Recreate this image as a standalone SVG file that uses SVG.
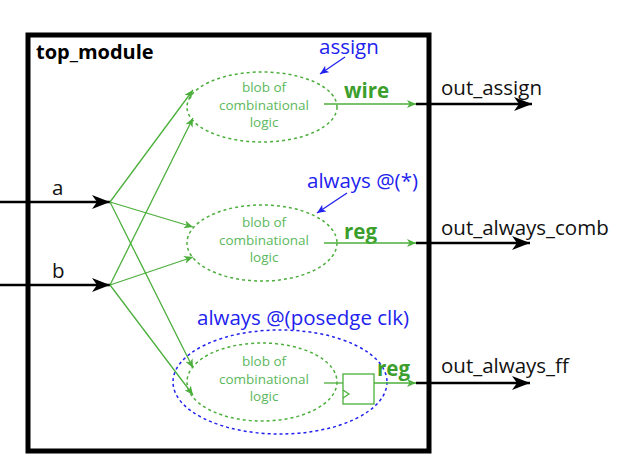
<svg xmlns="http://www.w3.org/2000/svg" width="626" height="458" viewBox="0 0 626 458">
<defs>
<marker id="bk" markerWidth="20" markerHeight="14" refX="18" refY="7" orient="auto" markerUnits="userSpaceOnUse">
<path d="M0,0 L18,7 L0,14 L5,7 z" fill="#000"/>
</marker>
<marker id="gr" markerWidth="10" markerHeight="8" refX="9" refY="4" orient="auto" markerUnits="userSpaceOnUse">
<path d="M0,0 L9,4 L0,8 L2.5,4 z" fill="#4caf3c"/>
</marker>
<marker id="bl" markerWidth="10" markerHeight="8" refX="9" refY="4" orient="auto" markerUnits="userSpaceOnUse">
<path d="M0,0 L9,4 L0,8 L2.5,4 z" fill="#2222ee"/>
</marker>
</defs>
<style>
text{font-family:"Open Sans","Noto Sans","DejaVu Sans",sans-serif}
.blk{stroke:#000;stroke-width:2.5;fill:none}
.g{stroke:#4caf3c;stroke-width:1.3;fill:none}
.gd{stroke:#4caf3c;stroke-width:1.5;fill:none;stroke-dasharray:3 3}
.bd{stroke:#2222ee;stroke-width:1.5;fill:none;stroke-dasharray:3 3}
.bt{fill:#2222ee;font-size:20.5px}
.gt{fill:#5cb85c;font-size:13.5px;text-anchor:middle}
.gb{fill:#3c9e2c;font-size:20.5px;font-weight:bold}
.kt{fill:#111;font-size:20.5px}
</style>
<g id="module">
<rect x="28" y="35" width="401" height="416" fill="none" stroke="#000" stroke-width="5"/>
<text x="36" y="59" style="font-size:20px;font-weight:bold;fill:#000">top_module</text>
</g>
<g id="blob1">
<ellipse class="gd" cx="262" cy="107" rx="75" ry="35"/>
<text class="gt" x="264" y="92">blob of</text>
<text class="gt" x="264" y="109.5">combinational</text>
<text class="gt" x="264" y="127">logic</text>
</g>
<g id="blob2">
<ellipse class="gd" cx="262" cy="243" rx="75" ry="38"/>
<text class="gt" x="264" y="227">blob of</text>
<text class="gt" x="264" y="244.5">combinational</text>
<text class="gt" x="264" y="262">logic</text>
</g>
<g id="always_ff">
<ellipse class="bd" cx="280" cy="382" rx="107" ry="52"/>
<text class="bt" x="197" y="325">always @(posedge clk)</text>
</g>
<g id="blob3">
<ellipse class="gd" cx="262" cy="382" rx="75" ry="39"/>
<text class="gt" x="264" y="366">blob of</text>
<text class="gt" x="264" y="383.5">combinational</text>
<text class="gt" x="264" y="401">logic</text>
</g>
<g id="flipflop">
<rect x="343" y="374" width="31" height="30" fill="none" stroke="#4caf3c" stroke-width="1.3"/>
<path d="M343,390 L349,394 L343,398" fill="none" stroke="#4caf3c" stroke-width="1.2"/>
</g>
<g id="labels">
<text class="bt" x="319" y="54">assign</text>
<text class="bt" x="307" y="188">always @(*)</text>
<text class="gb" x="344" y="98">wire</text>
<text class="gb" x="344" y="239">reg</text>
<text class="gb" x="377" y="376">reg</text>
<text class="kt" x="52" y="195">a</text>
<text class="kt" x="52" y="278">b</text>
<text class="kt" x="441" y="95">out_assign</text>
<text class="kt" x="441" y="235">out_always_comb</text>
<text class="kt" x="441" y="373">out_always_ff</text>
</g>
<g id="connectors">
<line class="blk" x1="0" y1="202" x2="110" y2="202" marker-end="url(#bk)"/>
<line class="blk" x1="0" y1="285" x2="110" y2="285" marker-end="url(#bk)"/>
<line class="g" x1="110" y1="202" x2="193" y2="90" marker-end="url(#gr)"/>
<line class="g" x1="110" y1="202" x2="193" y2="227" marker-end="url(#gr)"/>
<line class="g" x1="110" y1="202" x2="193" y2="368" marker-end="url(#gr)"/>
<line class="g" x1="110" y1="285" x2="193" y2="118" marker-end="url(#gr)"/>
<line class="g" x1="110" y1="285" x2="193" y2="257" marker-end="url(#gr)"/>
<line class="g" x1="110" y1="285" x2="193" y2="395" marker-end="url(#gr)"/>
<line class="g" x1="324" y1="104" x2="416" y2="104" marker-end="url(#gr)"/>
<line class="g" x1="324" y1="243" x2="416" y2="243" marker-end="url(#gr)"/>
<line class="g" x1="324" y1="383" x2="343" y2="383"/>
<line class="g" x1="374" y1="383" x2="416" y2="383" marker-end="url(#gr)"/>
<line class="blk" x1="416" y1="104" x2="532" y2="104" marker-end="url(#bk)"/>
<line class="blk" x1="416" y1="243" x2="530" y2="243" marker-end="url(#bk)"/>
<line class="blk" x1="416" y1="383" x2="530" y2="383" marker-end="url(#bk)"/>
<line x1="345" y1="57" x2="320" y2="74" stroke="#2222ee" stroke-width="1.3" marker-end="url(#bl)"/>
<line x1="347" y1="193" x2="317" y2="213" stroke="#2222ee" stroke-width="1.3" marker-end="url(#bl)"/>
</g>
</svg>
